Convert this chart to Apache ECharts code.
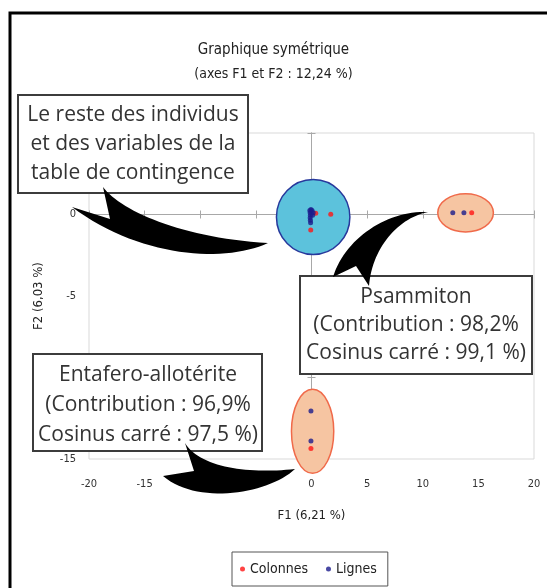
<!DOCTYPE html>
<html>
<head>
<meta charset="utf-8">
<script src="https://cdn.jsdelivr.net/npm/echarts@6/dist/echarts.min.js"></script>
<style>
  html, body { margin: 0; padding: 0; background: #fff; }
  #chart { width: 547px; height: 588px; }
</style>
</head>
<body>
<div id="chart"></div>
<script>
// Factor map of the correspondence analysis (F1 x F2)
const xRange = [-20, 20];
const yRange = [-15, 5];
const tickStep = 5;

// Column points (red)
const colonnesX = [0.38, 1.73, -0.07, 14.4, -0.05];
const colonnesY = [0.07, 0.01, -0.95, 0.1, -14.35];

// Row points (blue)
const lignesX = [-0.15, -0.12, -0.1, -0.12, -0.1, -0.08, 0.05, 0.15, 0.1, -0.05, 12.7, 13.7, -0.05, -0.05];
const lignesY = [0.25, 0.1, -0.05, -0.2, -0.35, -0.5, 0.25, 0.1, -0.05, 0.3, 0.1, 0.1, -12.05, -13.9];

// Highlighted groups: centre and half-axes, in factor units
const groupNames = ['Reste', 'Psammiton', 'Entafero-allotérite'];
const groupCx = [0.15, 13.85, 0.1];
const groupCy = [-0.15, 0.1, -13.3];
const groupRx = [3.3, 2.5, 1.9];
const groupRy = [2.3, 1.17, 2.58];

const groupFill = ['#5cc2dc', '#f6c5a2', '#f6c5a2'];
const groupStroke = ['#27389c', '#f06a4a', '#f06a4a'];

const narrow = "'Liberation Sans Narrow', 'DejaVu Sans Condensed', sans-serif";
const calloutFont = "'Open Sans', sans-serif";

// Curved swallow-tail arrow: tail points a, notch n, tail point b,
// upper edge b -> tip (cubic), lower edge tip -> a (cubic)
function cubic(p0, p1, p2, p3, steps) {
  const pts = [];
  for (let k = 1; k <= steps; k++) {
    const t = k / steps, u = 1 - t;
    pts.push([
      u * u * u * p0[0] + 3 * u * u * t * p1[0] + 3 * u * t * t * p2[0] + t * t * t * p3[0],
      u * u * u * p0[1] + 3 * u * u * t * p1[1] + 3 * u * t * t * p2[1] + t * t * t * p3[1]
    ]);
  }
  return pts;
}
function swoosh(a, n, b, c1, c2, tip, c3, c4) {
  return [a, n, b].concat(cubic(b, c1, c2, tip, 30)).concat(cubic(tip, c3, c4, a, 30));
}

function ellipsePath(cx, cy, rx, ry) {
  return 'M' + (cx - rx) + ' ' + cy +
    ' A' + rx + ' ' + ry + ' 0 1 0 ' + (cx + rx) + ' ' + cy +
    ' A' + rx + ' ' + ry + ' 0 1 0 ' + (cx - rx) + ' ' + cy + ' Z';
}

const chart = echarts.init(document.getElementById('chart'));

function zeroAxis(kind, inside) {
  return {
    type: 'value',
    min: kind === 'x' ? xRange[0] : yRange[0],
    max: kind === 'x' ? xRange[1] : yRange[1],
    interval: tickStep,
    position: kind === 'x' ? 'bottom' : 'left',
    axisLine: { show: true, onZero: true, onZeroAxisIndex: 0, lineStyle: { color: '#a8a8a8', width: 1 } },
    axisTick: { show: true, inside: inside, length: 4, lineStyle: { color: '#a8a8a8' } },
    axisLabel: { show: false },
    splitLine: { show: false }
  };
}

const groupData = groupNames.map((n, i) => [groupCx[i], groupCy[i], groupRx[i], groupRy[i]]);

const calloutText = { align: 'center', verticalAlign: 'middle', font: '21px ' + calloutFont, fill: '#333' };

chart.setOption({
  backgroundColor: '#fff',
  animation: false,
  title: {
    text: 'Graphique symétrique',
    subtext: '(axes F1 et F2 : 12,24 %)',
    left: 'center',
    top: 38,
    itemGap: 9,
    textStyle: { fontFamily: narrow, fontSize: 15, fontWeight: 'normal', color: '#222' },
    subtextStyle: { fontFamily: narrow, fontSize: 14, color: '#222' }
  },
  legend: {
    data: ['Colonnes', 'Lignes'],
    left: 232,
    top: 552,
    padding: [10, 11, 10, 8],
    itemGap: 18,
    itemWidth: 5,
    itemHeight: 5,
    icon: 'circle',
    borderColor: '#555',
    borderWidth: 1,
    textStyle: { fontFamily: narrow, fontSize: 14, color: '#222' }
  },
  grid: {
    left: 89, top: 133, width: 445, height: 326,
    show: true, borderColor: '#d9d9d9', borderWidth: 1, backgroundColor: 'transparent'
  },
  xAxis: [
    {
      type: 'value', min: xRange[0], max: xRange[1], interval: tickStep,
      position: 'bottom',
      axisLine: { show: false, onZero: false },
      axisTick: { show: false },
      splitLine: { show: false },
      axisLabel: { margin: 20, fontFamily: narrow, fontSize: 11, color: '#333' },
      name: 'F1 (6,21 %)',
      nameLocation: 'middle',
      nameGap: 50,
      nameTextStyle: { fontFamily: narrow, fontSize: 13, color: '#222' }
    },
    zeroAxis('x', false),
    zeroAxis('x', true)
  ],
  yAxis: [
    {
      type: 'value', min: yRange[0], max: yRange[1], interval: tickStep,
      position: 'left',
      axisLine: { show: false, onZero: false },
      axisTick: { show: false },
      splitLine: { show: false },
      axisLabel: { margin: 13, fontFamily: narrow, fontSize: 11, color: '#333', padding: [4, 0, 0, 0] },
      name: 'F2 (6,03 %)',
      nameLocation: 'middle',
      nameGap: 44,
      nameTextStyle: { fontFamily: narrow, fontSize: 13, color: '#222' }
    },
    zeroAxis('y', false),
    zeroAxis('y', true)
  ],
  series: [
    {
      name: 'Groupes',
      type: 'custom',
      xAxisIndex: 0, yAxisIndex: 0,
      silent: true,
      clip: false,
      z: 1,
      data: groupData,
      encode: { x: 0, y: 1 },
      renderItem: function (params, api) {
        const c = api.coord([api.value(0), api.value(1)]);
        const s = api.size([api.value(2), api.value(3)]);
        const i = params.dataIndex;
        return {
          type: 'path',
          shape: { pathData: ellipsePath(c[0], c[1], s[0], s[1]) },
          style: { fill: groupFill[i], stroke: groupStroke[i], lineWidth: 1.5 }
        };
      }
    },
    {
      name: 'Colonnes',
      type: 'scatter',
      z: 3,
      symbol: 'circle',
      symbolSize: 5,
      itemStyle: { color: '#ff1414' },
      data: colonnesX.map((x, i) => [x, colonnesY[i]])
    },
    {
      name: 'Lignes',
      type: 'scatter',
      z: 4,
      symbol: 'circle',
      symbolSize: 5,
      itemStyle: { color: '#1c1c8c' },
      data: lignesX.map((x, i) => [x, lignesY[i]])
    }
  ],
  graphic: [
    // outer frame
    { type: 'rect', z: 100, silent: true, shape: { x: 10, y: 13, width: 600, height: 600 },
      style: { fill: 'none', stroke: '#000', lineWidth: 3 } },

    // callout: rest of the table
    { type: 'rect', z: 100, shape: { x: 18, y: 95, width: 230, height: 98 },
      style: { fill: '#fff', stroke: '#3c3c3c', lineWidth: 2 } },
    { type: 'text', z: 101, style: Object.assign({
        text: 'Le reste des individus\net des variables de la\ntable de contingence',
        x: 133, y: 144, lineHeight: 29 }, calloutText) },
    { type: 'polygon', z: 102, shape: {
        points: swoosh([72, 207], [110, 219], [103, 187], [120, 210], [180, 238], [268, 243], [225, 263], [140, 258]) },
      style: { fill: '#000' } },

    // callout: Psammiton
    { type: 'rect', z: 100, shape: { x: 300, y: 276, width: 232, height: 98 },
      style: { fill: '#fff', stroke: '#3c3c3c', lineWidth: 2 } },
    { type: 'text', z: 101, style: Object.assign({
        text: 'Psammiton\n(Contribution : 98,2%\nCosinus carré : 99,1 %)',
        x: 416, y: 325, lineHeight: 28 }, calloutText) },
    { type: 'polygon', z: 102, shape: {
        points: swoosh([333, 277], [356, 266], [369, 286], [372, 248], [398, 218], [428, 212], [388, 210], [345, 238]) },
      style: { fill: '#000' } },

    // callout: Entafero-allotérite
    { type: 'rect', z: 100, shape: { x: 33, y: 354, width: 229, height: 97 },
      style: { fill: '#fff', stroke: '#3c3c3c', lineWidth: 2 } },
    { type: 'text', z: 101, style: Object.assign({
        text: 'Entafero-allotérite\n(Contribution : 96,9%\nCosinus carré : 97,5 %)',
        x: 148, y: 405, lineHeight: 30 }, calloutText) },
    { type: 'polygon', z: 102, shape: {
        points: swoosh([163, 476], [194, 471], [185, 443], [200, 468], [250, 474], [295, 469], [270, 493], [198, 506]) },
      style: { fill: '#000' } }
  ]
});
</script>
</body>
</html>
